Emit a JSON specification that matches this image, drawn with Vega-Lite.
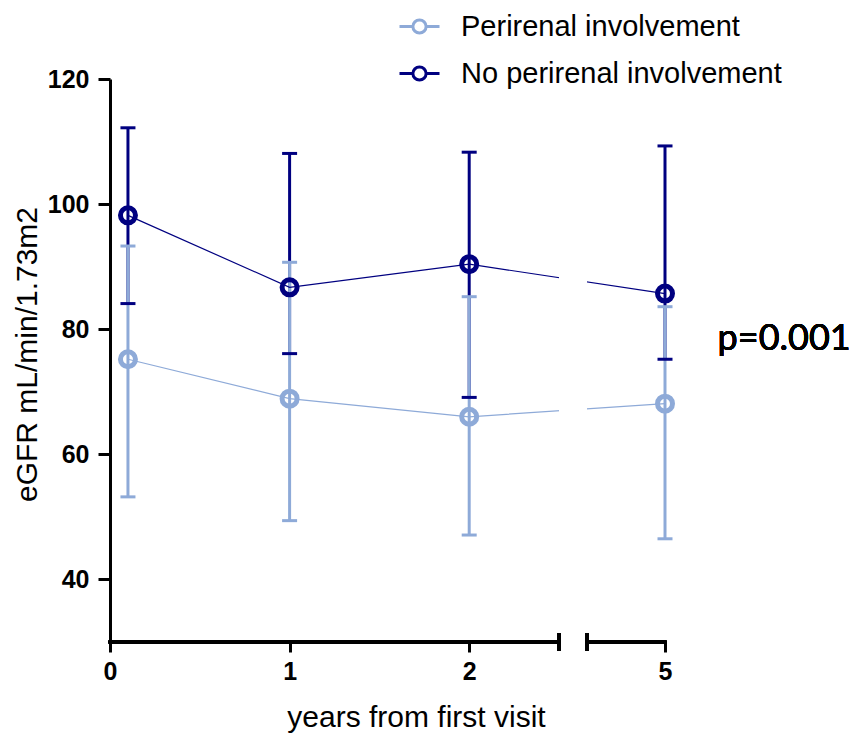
{
  "$schema": "https://vega.github.io/schema/vega-lite/v6.json",
  "width": 555,
  "height": 563,
  "autosize": {"type": "none"},
  "padding": {"left": 110, "top": 79, "right": 193, "bottom": 92},
  "background": "white",
  "config": {"view": {"stroke": null}, "font": "Liberation Sans"},
  "data": {
    "values": [
      {"group": "Perirenal involvement", "year": 0.1, "mean": 75.2, "lo": 53.2, "hi": 93.3},
      {"group": "Perirenal involvement", "year": 1, "mean": 68.9, "lo": 49.4, "hi": 90.7},
      {"group": "Perirenal involvement", "year": 2, "mean": 66.0, "lo": 47.1, "hi": 85.2},
      {"group": "Perirenal involvement", "year": 5, "mean": 68.1, "lo": 46.5, "hi": 83.6},
      {"group": "No perirenal involvement", "year": 0.1, "mean": 98.2, "lo": 84.1, "hi": 112.2},
      {"group": "No perirenal involvement", "year": 1, "mean": 86.7, "lo": 76.1, "hi": 108.1},
      {"group": "No perirenal involvement", "year": 2, "mean": 90.4, "lo": 69.1, "hi": 108.3},
      {"group": "No perirenal involvement", "year": 5, "mean": 85.7, "lo": 75.2, "hi": 109.3}
    ]
  },
  "layer": [
    {
      "transform": [{"filter": "datum.group === 'No perirenal involvement'"}],
      "mark": {"type": "rule", "color": "#000080", "strokeWidth": 3},
      "encoding": {
        "x": {
          "field": "year", "type": "quantitative", "title": "years from first visit",
          "scale": {"domain": [0, 2.5, 4.57, 5], "range": [0, 449, 477, 555], "nice": false, "zero": false},
          "axis": {
            "values": [0, 1, 2, 5], "format": "d", "domain": false, "grid": false,
            "ticks": true, "tickSize": 10, "tickWidth": 3, "tickColor": "black",
            "labelFont": "Liberation Sans", "labelFontSize": 25, "labelFontWeight": "bold", "labelColor": "black",
            "labelPadding": 7, "labelFlush": false, "labelOverlap": false,
            "titleFont": "Liberation Sans", "titleFontSize": 30,
            "titleFontWeight": "normal", "titleColor": "black",
            "titleX": 306, "titleY": 84, "titleBaseline": "alphabetic", "titleAlign": "center"
          }
        },
        "y": {
          "field": "lo", "type": "quantitative", "title": "eGFR mL/min/1.73m2",
          "scale": {"domain": [30, 120], "nice": false, "zero": false},
          "axis": {
            "values": [40, 60, 80, 100, 120], "grid": false,
            "domain": true, "domainColor": "black", "domainWidth": 3,
            "tickSize": 12, "tickWidth": 3, "tickColor": "black",
            "labelFont": "Liberation Sans", "labelFontSize": 25, "labelFontWeight": "bold", "labelColor": "black",
            "labelPadding": 9,
            "titleFont": "Liberation Sans", "titleFontSize": 30,
            "titleFontWeight": "normal", "titleColor": "black",
            "titleX": -74, "titleY": 275, "titleAngle": -90, "titleBaseline": "alphabetic", "titleAlign": "center"
          }
        },
        "y2": {"field": "hi"}
      }
    },
    {
      "transform": [{"filter": "datum.group === 'Perirenal involvement'"}],
      "mark": {"type": "rule", "color": "#8EAAD8", "strokeWidth": 3},
      "encoding": {
        "x": {"field": "year", "type": "quantitative", "title": "years from first visit"},
        "y": {"field": "lo", "type": "quantitative", "title": "eGFR mL/min/1.73m2"},
        "y2": {"field": "hi"}
      }
    },
    {
      "transform": [{"filter": "datum.group === 'No perirenal involvement'"}],
      "mark": {"type": "tick", "orient": "horizontal", "size": 15, "thickness": 3, "opacity": 1, "color": "#000080"},
      "encoding": {
        "x": {"field": "year", "type": "quantitative", "title": "years from first visit"},
        "y": {"field": "lo", "type": "quantitative", "title": "eGFR mL/min/1.73m2"}
      }
    },
    {
      "transform": [{"filter": "datum.group === 'No perirenal involvement'"}],
      "mark": {"type": "tick", "orient": "horizontal", "size": 15, "thickness": 3, "opacity": 1, "color": "#000080"},
      "encoding": {
        "x": {"field": "year", "type": "quantitative", "title": "years from first visit"},
        "y": {"field": "hi", "type": "quantitative", "title": "eGFR mL/min/1.73m2"}
      }
    },
    {
      "transform": [{"filter": "datum.group === 'Perirenal involvement'"}],
      "mark": {"type": "tick", "orient": "horizontal", "size": 15, "thickness": 3, "opacity": 1, "color": "#8EAAD8"},
      "encoding": {
        "x": {"field": "year", "type": "quantitative", "title": "years from first visit"},
        "y": {"field": "lo", "type": "quantitative", "title": "eGFR mL/min/1.73m2"}
      }
    },
    {
      "transform": [{"filter": "datum.group === 'Perirenal involvement'"}],
      "mark": {"type": "tick", "orient": "horizontal", "size": 15, "thickness": 3, "opacity": 1, "color": "#8EAAD8"},
      "encoding": {
        "x": {"field": "year", "type": "quantitative", "title": "years from first visit"},
        "y": {"field": "hi", "type": "quantitative", "title": "eGFR mL/min/1.73m2"}
      }
    },
    {
      "mark": {"type": "line", "strokeWidth": 1.2},
      "encoding": {
        "x": {"field": "year", "type": "quantitative", "title": "years from first visit"},
        "y": {"field": "mean", "type": "quantitative", "title": "eGFR mL/min/1.73m2"},
        "color": {
          "field": "group", "type": "nominal",
          "scale": {"domain": ["Perirenal involvement", "No perirenal involvement"], "range": ["#8EAAD8", "#000080"]}
        }
      }
    },
    {
      "mark": {"type": "rect", "color": "white"},
      "encoding": {
        "x": {"datum": 2.5, "type": "quantitative"},
        "x2": {"datum": 4.57},
        "y": {"datum": 30, "type": "quantitative"},
        "y2": {"datum": 120}
      }
    },
    {
      "mark": {"type": "point", "filled": false, "size": 225, "strokeWidth": 5, "opacity": 1, "shape": "circle"},
      "encoding": {
        "x": {"field": "year", "type": "quantitative", "title": "years from first visit"},
        "y": {"field": "mean", "type": "quantitative", "title": "eGFR mL/min/1.73m2"},
        "color": {
          "field": "group", "type": "nominal",
          "scale": {"domain": ["Perirenal involvement", "No perirenal involvement"], "range": ["#8EAAD8", "#000080"]},
          "legend": {
            "orient": "none", "legendX": 288, "legendY": -74, "title": null, "padding": 0,
            "symbolType": "M-1,0H-0.33M0.33,0H1M0.33,0A0.33,0.33,0,1,1,-0.33,0A0.33,0.33,0,1,1,0.33,0",
            "symbolSize": 1600, "symbolStrokeWidth": 3,
            "labelFont": "Liberation Sans", "labelFontSize": 29, "labelColor": "black",
            "labelOffset": 20, "rowPadding": 10, "labelLimit": 600
          }
        }
      }
    },
    {
      "mark": {"type": "rule", "color": "black", "strokeWidth": 3, "strokeCap": "square"},
      "encoding": {
        "x": {"datum": 0, "type": "quantitative"},
        "x2": {"datum": 2.5},
        "y": {"datum": 30, "type": "quantitative"}
      }
    },
    {
      "mark": {"type": "rule", "color": "black", "strokeWidth": 3, "strokeCap": "square"},
      "encoding": {
        "x": {"datum": 4.57, "type": "quantitative"},
        "x2": {"datum": 5},
        "y": {"datum": 30, "type": "quantitative"}
      }
    },
    {
      "mark": {"type": "tick", "orient": "vertical", "size": 18, "thickness": 3, "color": "black", "opacity": 1},
      "encoding": {
        "x": {"datum": 2.5, "type": "quantitative"},
        "y": {"datum": 30, "type": "quantitative"}
      }
    },
    {
      "mark": {"type": "tick", "orient": "vertical", "size": 18, "thickness": 3, "color": "black", "opacity": 1},
      "encoding": {
        "x": {"datum": 4.57, "type": "quantitative"},
        "y": {"datum": 30, "type": "quantitative"}
      }
    },
    {
      "mark": {"type": "text", "text": "p=0.001", "font": "Lato", "fontSize": 36, "align": "left", "baseline": "middle", "color": "black"},
      "encoding": {
        "x": {"datum": 5.29, "type": "quantitative"},
        "y": {"datum": 78.4, "type": "quantitative"}
      }
    }
  ]
}
